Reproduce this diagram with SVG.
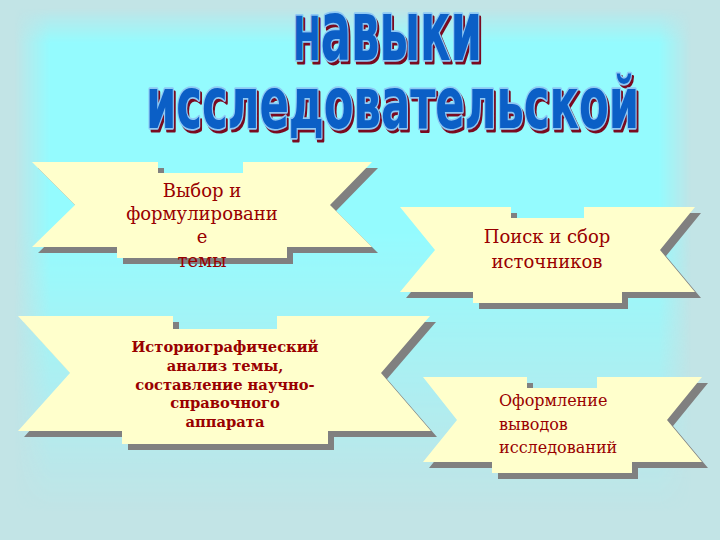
<svg xmlns="http://www.w3.org/2000/svg" xmlns:xlink="http://www.w3.org/1999/xlink" width="720" height="540" viewBox="0 0 720 540">
<style>
.ribbon{fill:#ffffcc}
.shadow{fill:#808080}
.lbl{font-family:"DejaVu Serif","Liberation Serif",serif;font-size:18px;fill:#990000}
.lbl4{font-family:"DejaVu Serif","Liberation Serif",serif;font-size:16px;fill:#990000}
.lblb{font-family:"DejaVu Serif","Liberation Serif",serif;font-size:14.7px;font-weight:bold;fill:#990000}
.ttl{font-family:"Liberation Sans Narrow","DejaVu Sans Condensed","Liberation Sans",sans-serif;font-weight:bold;stroke-linejoin:round}
</style>
<defs>
<linearGradient id="gh" gradientUnits="userSpaceOnUse" x1="0" y1="0" x2="720" y2="0">
<stop offset="0.02" stop-color="#000"/><stop offset="0.07" stop-color="#fff"/>
<stop offset="0.915" stop-color="#fff"/><stop offset="0.96" stop-color="#000"/>
</linearGradient>
<linearGradient id="gv" gradientUnits="userSpaceOnUse" x1="0" y1="0" x2="0" y2="540">
<stop offset="0.015" stop-color="#000"/><stop offset="0.08" stop-color="#fff"/>
<stop offset="0.43" stop-color="#fff"/><stop offset="0.95" stop-color="#000"/>
</linearGradient>
<mask id="mh" maskUnits="userSpaceOnUse" x="0" y="0" width="720" height="540"><rect width="720" height="540" fill="url(#gh)"/></mask>
<mask id="mv" maskUnits="userSpaceOnUse" x="0" y="0" width="720" height="540"><rect width="720" height="540" fill="url(#gv)"/></mask>
<g id="tt" class="ttl">
<text x="293" y="60" font-size="83" textLength="189" lengthAdjust="spacingAndGlyphs"><tspan font-size="61">Н</tspan>авыки</text>
<text x="146" y="128" font-size="72" textLength="493" lengthAdjust="spacingAndGlyphs">исследовательской</text>
</g>
</defs>
<g id="background">
<rect width="720" height="540" fill="#c2e4e6"/>
<g mask="url(#mh)"><rect width="720" height="540" fill="#94fbfe" mask="url(#mv)"/></g>
</g>
<g id="title">
<use xlink:href="#tt" transform="translate(2,2.5)" fill="#7a0a20" stroke="#7a0a20" stroke-width="3"/>
<use xlink:href="#tt" fill="#0b5fc6" stroke="#8ec8f4" stroke-width="3.5" paint-order="stroke fill"/>
</g>
<g id="connectors"></g>
<g id="node1">
<polygon class="shadow" transform="translate(6,6)" points="32,162 158,162 158,173 243,173 243,162 372,162 330,205 372,247 287,247 287,258 117,258 117,247 32,247 75,205"/>
<polygon class="ribbon" points="32,162 158,162 158,173 243,173 243,162 372,162 330,205 372,247 287,247 287,258 117,258 117,247 32,247 75,205"/>
<text class="lbl" text-anchor="middle"><tspan x="202" y="197">Выбор и</tspan><tspan x="202" y="220">формулировани</tspan><tspan x="202" y="243">е</tspan><tspan x="202" y="267">темы</tspan></text>
</g>
<g id="node2">
<polygon class="shadow" transform="translate(6,6)" points="400,207 511,207 511,218 584,218 584,207 695,207 660,250 695,292 622,292 622,303 473,303 473,292 400,292 435,250"/>
<polygon class="ribbon" points="400,207 511,207 511,218 584,218 584,207 695,207 660,250 695,292 622,292 622,303 473,303 473,292 400,292 435,250"/>
<text class="lbl" text-anchor="middle"><tspan x="547" y="243">Поиск и сбор</tspan><tspan x="547" y="268">источников</tspan></text>
</g>
<g id="node3">
<polygon class="shadow" transform="translate(6,6)" points="18,316 173,316 173,329 277,329 277,316 430,316 381,373 431,431 328,431 328,444 122,444 122,431 18,431 70,373"/>
<polygon class="ribbon" points="18,316 173,316 173,329 277,329 277,316 430,316 381,373 431,431 328,431 328,444 122,444 122,431 18,431 70,373"/>
<text class="lblb" text-anchor="middle"><tspan x="225" y="352">Историографический</tspan><tspan x="225" y="371">анализ темы,</tspan><tspan x="225" y="390">составление научно-</tspan><tspan x="225" y="408">справочного</tspan><tspan x="225" y="427">аппарата</tspan></text>
</g>
<g id="node4">
<polygon class="shadow" transform="translate(6,6)" points="423,377 527,377 527,388 597,388 597,377 702,377 667,420 702,462 632,462 632,473 492,473 492,462 423,462 457,420"/>
<polygon class="ribbon" points="423,377 527,377 527,388 597,388 597,377 702,377 667,420 702,462 632,462 632,473 492,473 492,462 423,462 457,420"/>
<text class="lbl4"><tspan x="499" y="406">Оформление</tspan><tspan x="499" y="430">выводов</tspan><tspan x="499" y="453">исследований</tspan></text>
</g>
</svg>
